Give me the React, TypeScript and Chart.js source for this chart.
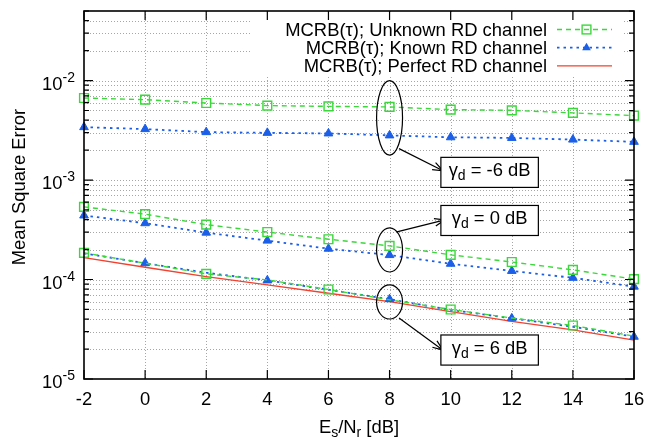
import React, { useEffect, useRef } from 'react';
import { Chart, registerables } from 'chart.js';

Chart.register(...registerables);

// ---------- data ----------
const snrDb = [-2, 0, 2, 4, 6, 8, 10, 12, 14, 16];

const unknownM6 = [6.68e-3, 6.42e-3, 5.95e-3, 5.6e-3, 5.5e-3, 5.43e-3, 5.1e-3, 5.02e-3, 4.73e-3, 4.44e-3];
const knownM6 = [3.4e-3, 3.25e-3, 3.03e-3, 2.98e-3, 2.94e-3, 2.81e-3, 2.69e-3, 2.65e-3, 2.55e-3, 2.42e-3];
const unknown0 = [5.37e-4, 4.54e-4, 3.56e-4, 3.0e-4, 2.54e-4, 2.18e-4, 1.77e-4, 1.5e-4, 1.25e-4, 1.01e-4];
const known0 = [4.4e-4, 3.68e-4, 2.96e-4, 2.46e-4, 2.04e-4, 1.76e-4, 1.44e-4, 1.22e-4, 1.04e-4, 8.48e-5];
const unknown6 = [1.85e-4, 1.46e-4, 1.14e-4, 9.9e-5, 7.94e-5, 6.25e-5, 5.0e-5, 4.1e-5, 3.45e-5, 2.7e-5];
const known6 = [1.83e-4, 1.46e-4, 1.17e-4, 9.8e-5, 7.9e-5, 6.34e-5, 4.95e-5, 4.07e-5, 3.35e-5, 2.66e-5];
const perfect = [1.66e-4, 1.33e-4, 1.07e-4, 8.83e-5, 7.28e-5, 6.0e-5, 4.75e-5, 3.8e-5, 3.12e-5, 2.46e-5];

const xTicks = [-2, 0, 2, 4, 6, 8, 10, 12, 14, 16];
const yDecades = [1e-5, 1e-4, 1e-3, 1e-2];
const yDecadeExp = ['-5', '-4', '-3', '-2'];
const legendLabels = [
  'MCRB(τ); Unknown RD channel',
  'MCRB(τ); Known RD channel',
  'MCRB(τ); Perfect RD channel',
];
const gammaLabels = ['-6', '0', '6'];

// annotation anchors in data coordinates
const ellipseX = 8;
const ellipseHalfW = 0.425;
const ellipseTop = [1.0e-2, 3.31e-4, 8.83e-5];
const ellipseBottom = [1.78e-3, 1.19e-4, 4.01e-5];
const boxX = [9.68, 12.87];
const boxTop = [1.69e-3, 5.55e-4, 2.77e-5];
const boxBottom = [8.43e-4, 2.77e-4, 1.38e-5];
const arrowStart = [[8.31, 2.07e-3], [8.24, 3.01e-4], [8.31, 4.1e-5]];
const arrowEnd = [[9.75, 1.24e-3], [9.81, 3.98e-4], [9.75, 1.95e-5]];

// ---------- styles ----------
const FONT = '"Liberation Sans", Arial, Helvetica, sans-serif';
const FS = 18.4;
const FSS = 14;
const GREEN = '#3ad83a';
const BLUE = '#1b5fe8';
const RED = '#f2412f';
const X_MIN = -2, X_MAX = 16, Y_MIN = 1e-5, Y_MAX = 0.05;

const pts = (arr: number[]) => snrDb.map((x, i) => ({ x, y: arr[i] }));

const unknownStyle: any = {
  borderColor: GREEN,
  backgroundColor: 'rgba(0,0,0,0)',
  borderWidth: 1.4,
  borderDash: [5, 4],
  pointStyle: 'rect',
  pointRadius: 6.2,
  pointBorderWidth: 1.4,
  pointBorderColor: GREEN,
  pointBackgroundColor: 'rgba(0,0,0,0)',
};
const knownStyle: any = {
  borderColor: BLUE,
  backgroundColor: BLUE,
  borderWidth: 1.8,
  borderDash: [2.5, 4],
  pointStyle: 'triangle',
  pointRadius: 5,
  pointBorderWidth: 1,
  pointBorderColor: BLUE,
  pointBackgroundColor: BLUE,
};

const decoPlugin = {
  id: 'deco',
  beforeDatasetsDraw(chart: any) {
    const { ctx, chartArea: a, scales } = chart;
    const x = scales.x, y = scales.y;
    ctx.save();
    ctx.strokeStyle = '#a6a6a6';
    ctx.lineWidth = 1;
    ctx.setLineDash([1, 2]);
    for (const v of xTicks) {
      if (v === X_MIN || v === X_MAX) continue;
      const px = Math.round(x.getPixelForValue(v)) + 0.5;
      ctx.beginPath();
      ctx.moveTo(px, a.top);
      ctx.lineTo(px, a.bottom);
      ctx.stroke();
    }
    for (let e = -5; e <= -2; e++) {
      for (let m = 1; m <= 9; m++) {
        const v = m * Math.pow(10, e);
        if (v <= Y_MIN * 1.0001 || v >= Y_MAX * 0.9999) continue;
        const py = Math.round(y.getPixelForValue(v)) + 0.5;
        ctx.beginPath();
        ctx.moveTo(a.left, py);
        ctx.lineTo(a.right, py);
        ctx.stroke();
      }
    }
    ctx.restore();
  },
  afterDatasetsDraw(chart: any) {
    const { ctx, chartArea: a, scales } = chart;
    const x = scales.x, y = scales.y;
    ctx.save();
    // ---- legend (opaque key) ----
    ctx.fillStyle = '#ffffff';
    ctx.fillRect(a.right - 384, a.top + 1, 372, 63);
    ctx.font = `${FS}px ${FONT}`;
    ctx.textAlign = 'right';
    ctx.textBaseline = 'alphabetic';
    const styles = [unknownStyle, knownStyle, null];
    legendLabels.forEach((lab, i) => {
      const base = a.top + 25 + 18.2 * i;
      ctx.fillStyle = '#000';
      ctx.font = `${FS}px ${FONT}`;
      ctx.fillText(lab, a.right - 87, base);
      const ly = base - 6.5;
      const x0 = a.right - 77, x1 = a.right - 22;
      ctx.beginPath();
      const st: any = styles[i];
      if (st) {
        ctx.strokeStyle = st.borderColor;
        ctx.lineWidth = st.borderWidth;
        ctx.setLineDash(st.borderDash);
      } else {
        ctx.strokeStyle = RED;
        ctx.lineWidth = 1.4;
        ctx.setLineDash([]);
      }
      ctx.moveTo(x0, ly);
      ctx.lineTo(x1, ly);
      ctx.stroke();
      ctx.setLineDash([]);
      const mx = (x0 + x1) / 2 + 2;
      if (i === 0) {
        const s = 6.2 * Math.SQRT1_2;
        ctx.strokeStyle = GREEN;
        ctx.lineWidth = 1.4;
        ctx.strokeRect(mx - s, ly - s, 2 * s, 2 * s);
      } else if (i === 1) {
        const r = 5;
        ctx.fillStyle = BLUE;
        ctx.beginPath();
        ctx.moveTo(mx, ly - r);
        ctx.lineTo(mx + r * Math.sin(Math.PI / 3), ly + r * 0.5);
        ctx.lineTo(mx - r * Math.sin(Math.PI / 3), ly + r * 0.5);
        ctx.closePath();
        ctx.fill();
      }
    });

    // ---- ellipses, arrows, boxes ----
    ctx.strokeStyle = '#000';
    ctx.lineWidth = 1.2;
    ctx.setLineDash([]);
    for (let i = 0; i < 3; i++) {
      const cx = x.getPixelForValue(ellipseX);
      const rx = x.getPixelForValue(ellipseX + ellipseHalfW) - cx;
      const t = y.getPixelForValue(ellipseTop[i]);
      const b = y.getPixelForValue(ellipseBottom[i]);
      ctx.beginPath();
      ctx.ellipse(cx, (t + b) / 2, rx, (b - t) / 2, 0, 0, Math.PI * 2);
      ctx.stroke();

      const sx = x.getPixelForValue(arrowStart[i][0]);
      const sy = y.getPixelForValue(arrowStart[i][1]);
      const ex = x.getPixelForValue(arrowEnd[i][0]);
      const ey = y.getPixelForValue(arrowEnd[i][1]);
      ctx.beginPath();
      ctx.moveTo(sx, sy);
      ctx.lineTo(ex, ey);
      const ang = Math.atan2(ey - sy, ex - sx);
      const hl = 11, ha = 0.36;
      ctx.moveTo(ex - hl * Math.cos(ang - ha), ey - hl * Math.sin(ang - ha));
      ctx.lineTo(ex, ey);
      ctx.lineTo(ex - hl * Math.cos(ang + ha), ey - hl * Math.sin(ang + ha));
      ctx.stroke();

      const bx0 = x.getPixelForValue(boxX[0]);
      const bx1 = x.getPixelForValue(boxX[1]);
      const by0 = y.getPixelForValue(boxTop[i]);
      const by1 = y.getPixelForValue(boxBottom[i]);
      ctx.fillStyle = '#fff';
      ctx.fillRect(bx0, by0, bx1 - bx0, by1 - by0);
      ctx.strokeRect(bx0, by0, bx1 - bx0, by1 - by0);

      // text: γ_d = X dB
      const main = `${FS}px ${FONT}`, sub = `${FSS}px ${FONT}`;
      const rest = ` = ${gammaLabels[i]} dB`;
      ctx.font = main;
      const wg = ctx.measureText('γ').width;
      const wr = ctx.measureText(rest).width;
      ctx.font = sub;
      const wd = ctx.measureText('d').width;
      const total = wg + wd + wr;
      let tx = (bx0 + bx1) / 2 - total / 2;
      const base = (by0 + by1) / 2 + 4;
      ctx.fillStyle = '#000';
      ctx.textAlign = 'left';
      ctx.font = main;
      ctx.fillText('γ', tx, base);
      tx += wg;
      ctx.font = sub;
      ctx.fillText('d', tx, base + 4);
      tx += wd;
      ctx.font = main;
      ctx.fillText(rest, tx, base);
    }
    ctx.restore();
  },
  afterDraw(chart: any) {
    const { ctx, chartArea: a, scales } = chart;
    const x = scales.x, y = scales.y;
    ctx.save();
    ctx.strokeStyle = '#000';
    ctx.lineWidth = 1.2;
    ctx.setLineDash([]);
    // ticks
    ctx.beginPath();
    for (const v of xTicks) {
      const px = x.getPixelForValue(v);
      ctx.moveTo(px, a.bottom);
      ctx.lineTo(px, a.bottom - 9);
      ctx.moveTo(px, a.top);
      ctx.lineTo(px, a.top + 9);
    }
    for (let e = -5; e <= -2; e++) {
      for (let m = 1; m <= 9; m++) {
        const v = m * Math.pow(10, e);
        if (v > Y_MAX * 1.0001) continue;
        const py = y.getPixelForValue(v);
        const len = m === 1 ? 9 : 5;
        ctx.moveTo(a.left, py);
        ctx.lineTo(a.left + len, py);
        ctx.moveTo(a.right, py);
        ctx.lineTo(a.right - len, py);
      }
    }
    ctx.stroke();
    // border
    ctx.lineWidth = 1.6;
    ctx.strokeRect(a.left, a.top, a.right - a.left, a.bottom - a.top);

    ctx.fillStyle = '#000';
    // y tick labels
    yDecades.forEach((v, i) => {
      const py = y.getPixelForValue(v);
      ctx.font = `${FSS}px ${FONT}`;
      const ws = ctx.measureText(yDecadeExp[i]).width;
      const right = a.left - 9;
      ctx.textAlign = 'left';
      ctx.textBaseline = 'alphabetic';
      ctx.fillText(yDecadeExp[i], right - ws, py + 1);
      ctx.font = `${FS}px ${FONT}`;
      ctx.textAlign = 'right';
      ctx.fillText('10', right - ws, py + 9);
    });
    // x tick labels
    ctx.font = `${FS}px ${FONT}`;
    ctx.textAlign = 'center';
    ctx.textBaseline = 'alphabetic';
    for (const v of xTicks) {
      ctx.fillText(String(v), x.getPixelForValue(v), a.bottom + 26);
    }
    // x title: E_s/N_r [dB]
    const parts: [string, boolean][] = [['E', false], ['s', true], ['/N', false], ['r', true], [' [dB]', false]];
    let total = 0;
    const widths = parts.map(([t, s]) => {
      ctx.font = s ? `${FSS}px ${FONT}` : `${FS}px ${FONT}`;
      const w = ctx.measureText(t).width;
      total += w;
      return w;
    });
    let tx = (a.left + a.right) / 2 - total / 2;
    const tb = a.bottom + 54;
    ctx.textAlign = 'left';
    parts.forEach(([t, s], i) => {
      ctx.font = s ? `${FSS}px ${FONT}` : `${FS}px ${FONT}`;
      ctx.fillText(t, tx, s ? tb + 3.5 : tb);
      tx += widths[i];
    });
    // y title
    ctx.translate(25, (a.top + a.bottom) / 2 - 8);
    ctx.rotate(-Math.PI / 2);
    ctx.font = `${FS}px ${FONT}`;
    ctx.textAlign = 'center';
    ctx.fillText('Mean Square Error', 0, 0);
    ctx.restore();
  },
};

export default function App() {
  const ref = useRef<HTMLCanvasElement>(null);
  useEffect(() => {
    document.body.style.margin = '0';
    const datasets: any[] = [
      { label: 'Unknown -6', data: pts(unknownM6), ...unknownStyle },
      { label: 'Unknown 0', data: pts(unknown0), ...unknownStyle },
      {
        label: 'Unknown 6',
        data: pts(unknown6),
        ...unknownStyle,
        pointRadius: (c: any) => (c.dataIndex % 2 === 0 ? 6.2 : 0),
      },
      { label: 'Known -6', data: pts(knownM6), ...knownStyle },
      { label: 'Known 0', data: pts(known0), ...knownStyle },
      {
        label: 'Known 6',
        data: pts(known6),
        ...knownStyle,
        pointRadius: (c: any) => (c.dataIndex % 2 === 1 ? 5 : 0),
      },
      {
        label: 'Perfect',
        data: pts(perfect),
        borderColor: RED,
        backgroundColor: RED,
        borderWidth: 1.4,
        pointRadius: 0,
      },
    ].map((d) => ({ ...d, clip: false, tension: 0, fill: false }));

    const chart = new Chart(ref.current as HTMLCanvasElement, {
      type: 'line',
      data: { datasets },
      options: {
        animation: false,
        responsive: true,
        maintainAspectRatio: false,
        events: [],
        layout: { padding: { left: 84, top: 11, right: 18, bottom: 58 } },
        plugins: { legend: { display: false }, tooltip: { enabled: false } },
        scales: {
          x: { type: 'linear', min: X_MIN, max: X_MAX, display: false },
          y: { type: 'logarithmic', min: Y_MIN, max: Y_MAX, display: false },
        },
      },
      plugins: [decoPlugin],
    } as any);
    return () => chart.destroy();
  }, []);
  return (
    <div style={{ width: 652, height: 437, position: 'relative' }}>
      <canvas ref={ref} />
    </div>
  );
}
